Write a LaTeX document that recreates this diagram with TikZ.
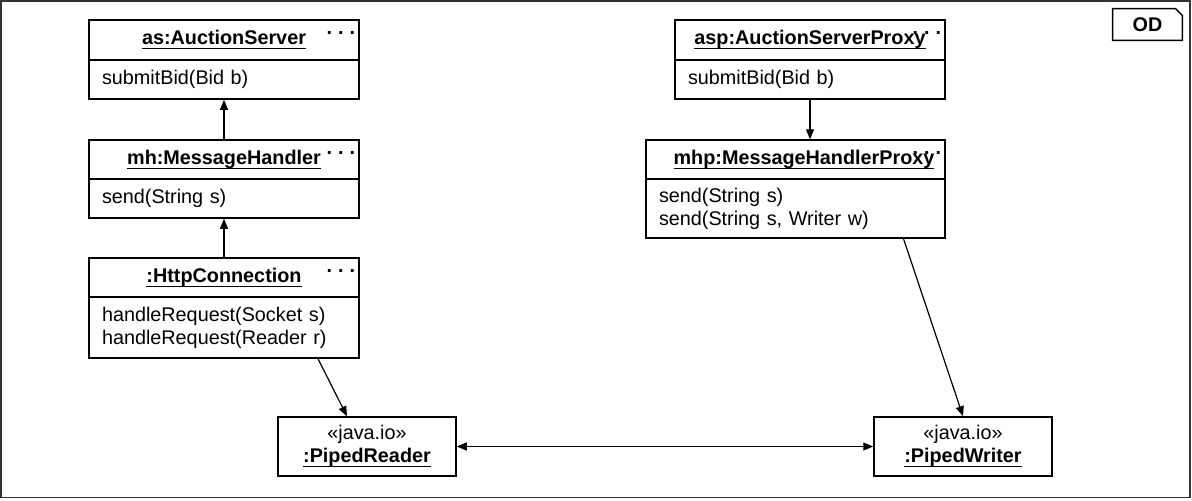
\documentclass[tikz,border=0pt]{standalone}
\usepackage{fontspec}
\setmainfont{Liberation Sans}
\usetikzlibrary{arrows.meta}
\newcommand{\objname}[1]{\textbf{\setbox0\hbox{#1}\rlap{\rule[-2.3pt]{\wd0}{0.7pt}}\box0}}
\tikzset{
  uml/.style={draw,line width=0.75pt,inner sep=0pt,font=\fontsize{9.9pt}{11.5pt}\selectfont},
  objhead/.style={uml,minimum width=#1,minimum height=19.5pt},
  objops/.style={uml,align=left,inner xsep=6.5pt,text width=#1},
  more/.style={inner sep=0pt,font=\fontsize{9.9pt}{11.5pt}\selectfont\bfseries},
  >={Triangle[length=5pt,width=4pt]},
}

\begin{document}
\begin{tikzpicture}[x=0.5pt,y=-0.5pt]
      \useasboundingbox (0,0) rectangle (1192,500);
      \draw[line width=0.8pt,black!80] (1,1) rectangle (1190,497.5);

      \node[more,minimum width=34.5pt,minimum height=15.5pt] (od) at (1147.5,24.5) {OD};
      \draw[line width=0.75pt] (od.south west) -- (od.north west) -- ([xshift=-3.5pt]od.north east)
        -- ([yshift=-3.5pt]od.north east) -- (od.south east) -- cycle;

      % server side
      \node[objhead=135pt,minimum height=20pt] (as) at (224,40) {\objname{as:AuctionServer}};
      \node[objops=122pt,minimum height=19.5pt] (as-ops) at (224,79.5) {submitBid(Bid b)};
      \node[more] at ([xshift=-9.5pt,yshift=-7pt]as.north east) {.\kern3pt.\kern3pt.};

      \node[objhead=135pt] (mh) at (224,159.5) {\objname{mh:MessageHandler}};
      \node[objops=122pt,minimum height=19.5pt] (mh-ops) at (224,198.5) {send(String s)};
      \node[more] at ([xshift=-9.5pt,yshift=-7pt]mh.north east) {.\kern3pt.\kern3pt.};

      \node[objhead=135pt] (http) at (224,277.5) {\objname{:HttpConnection}};
      \node[objops=122pt,minimum height=30.5pt] (http-ops) at (224,327.5)
        {handleRequest(Socket s)\\handleRequest(Reader r)};
      \node[more] at ([xshift=-9.5pt,yshift=-7pt]http.north east) {.\kern3pt.\kern3pt.};

      % client side
      \node[objhead=135pt,minimum height=20pt] (asp) at (810,40) {\objname{asp:AuctionServerProxy}};
      \node[objops=122pt,minimum height=19.5pt] (asp-ops) at (810,79.5) {submitBid(Bid b)};
      \node[more] at ([xshift=-9.5pt,yshift=-7pt]asp.north east) {.\kern3pt.\kern3pt.};

      \node[objhead=149.5pt] (mhp) at (795.5,159.5) {\hspace*{8.5pt}\objname{mhp:MessageHandlerProxy}};
      \node[objops=136.5pt,minimum height=29.5pt] (mhp-ops) at (795.5,208.5)
        {send(String s)\\send(String s, Writer w)};
      \node[more] at ([xshift=-9.5pt,yshift=-7pt]mhp.north east) {.\kern3pt.\kern3pt.};

      % pipes
      \node[uml,minimum width=89pt,minimum height=29.5pt,align=center] (preader) at (367,446.5)
        {«java.io»\\\objname{:PipedReader}};
      \node[uml,minimum width=89pt,minimum height=29.5pt,align=center] (pwriter) at (963,446.5)
        {«java.io»\\\objname{:PipedWriter}};

      \draw[line width=0.6pt,->] (mh.north) -- (as-ops.south);
      \draw[line width=0.6pt,->] (http.north) -- (mh-ops.south);
      \draw[line width=0.6pt,->] (asp-ops.south) -- (mhp.north -| asp-ops.south);
      \draw[line width=0.6pt,->] ([xshift=47pt]http-ops.south) -- ([xshift=-10pt]preader.north);
      \draw[line width=0.6pt,->] ([xshift=54pt]mhp-ops.south) -- (pwriter.north);
      \draw[line width=0.6pt,<->] (preader.east) -- (pwriter.west);
\end{tikzpicture}
\end{document}
